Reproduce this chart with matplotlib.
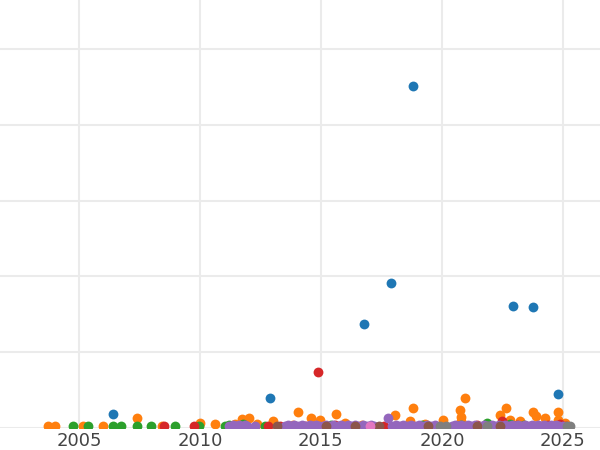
import numpy as np
import matplotlib
matplotlib.use("Agg")
import matplotlib.pyplot as plt

# year, value per group (values in units where one grid step = 100)
blue_year = [2006.40, 2012.89, 2016.78, 2017.90, 2018.80, 2022.93, 2023.76, 2024.79]
blue_val = [18, 39, 137, 191, 452, 160, 159, 44]

orange_year = [2003.73, 2004.00, 2005.18, 2005.99, 2007.40, 2008.42, 2010.01, 2010.62,
               2011.72, 2012.02, 2012.34, 2013.03, 2013.86, 2014.07, 2014.58, 2014.96,
               2015.62, 2015.99, 2018.06, 2018.68, 2018.79, 2020.04, 2020.74, 2020.77,
               2020.78, 2020.95, 2022.40, 2022.64, 2022.81, 2023.22, 2023.75, 2023.88,
               2024.26, 2024.81, 2024.79, 2025.08, 2011.45, 2016.70, 2019.30]
orange_val = [2, 2, 2, 2, 13, 2, 6, 4,
              11, 12, 4, 8, 3, 21, 13, 10,
              18, 6, 17, 9, 26, 10, 23, 14,
              9, 39, 17, 26, 10, 9, 20, 15,
              12, 20, 10, 6, 5, 3, 4]

green_year = [2004.74, 2005.38, 2006.40, 2006.72, 2007.40, 2007.96, 2008.97, 2009.97,
              2011.03, 2011.20, 2011.80, 2012.69, 2015.40, 2019.16, 2020.80, 2021.85,
              2022.81, 2023.40]
green_val = [2, 2, 2, 2, 2, 2, 2, 2,
             2, 3, 4, 2, 3, 3, 3, 6,
             5, 3]

red_year = [2008.51, 2009.75, 2012.81, 2013.31, 2014.34, 2014.88, 2015.58, 2017.60,
            2021.43, 2022.50, 2023.09, 2023.84, 2024.38, 2024.88, 2025.12]
red_val = [2, 2, 2, 2, 2, 73, 3, 2,
           3, 8, 3, 2, 3, 5, 2]

purple_year = [2011.20, 2011.35, 2011.45, 2011.60, 2011.70, 2011.85, 2011.95, 2012.27,
               2013.50, 2013.62, 2013.75, 2013.90, 2014.05, 2014.20, 2014.40, 2014.55,
               2014.67, 2014.80, 2014.90, 2015.08, 2015.22, 2015.35, 2015.50, 2015.70,
               2015.82, 2015.95, 2016.10, 2016.25, 2016.40, 2016.55, 2016.72, 2016.90,
               2017.05, 2017.20, 2017.77, 2017.95, 2018.10, 2018.25, 2018.40, 2018.55,
               2018.72, 2018.90, 2019.05, 2019.20, 2019.38, 2019.55, 2019.70, 2020.40,
               2020.52, 2020.65, 2020.80, 2020.95, 2021.08, 2021.20, 2021.38, 2021.55,
               2021.75, 2021.90, 2022.05, 2022.20, 2022.35, 2022.48, 2022.60, 2022.75,
               2022.90, 2023.02, 2023.15, 2023.30, 2023.45, 2023.58, 2023.70, 2023.82,
               2023.95, 2024.08, 2024.20, 2024.35, 2024.50, 2024.60, 2024.70, 2024.85,
               2025.00]
purple_val = [2, 3, 2, 3, 2, 3, 2, 2,
              2, 3, 2, 3, 2, 3, 2, 3,
              2, 3, 2, 2, 3, 2, 3, 2,
              3, 2, 3, 2, 3, 2, 3, 2,
              3, 2, 13, 2, 3, 2, 3, 2,
              3, 2, 3, 2, 3, 2, 3, 2,
              3, 2, 3, 2, 3, 2, 3, 2,
              3, 2, 3, 2, 3, 2, 3, 2,
              3, 2, 3, 2, 3, 2, 3, 2,
              3, 2, 3, 2, 3, 2, 3, 2,
              2]

brown_year = [2013.17, 2015.21, 2016.40, 2017.40, 2019.42, 2021.43, 2022.40]
brown_val = [2, 2, 2, 2, 2, 2, 2]

pink_year = [2017.02]
pink_val = [2]

gray_year = [2019.92, 2020.17, 2021.85, 2025.15, 2025.29]
gray_val = [2, 2, 2, 2, 2]

groups = [
    (orange_year, orange_val, "#ff7f0e"),
    (green_year, green_val, "#2ca02c"),
    (red_year, red_val, "#d62728"),
    (purple_year, purple_val, "#9467bd"),
    (brown_year, brown_val, "#8c564b"),
    (pink_year, pink_val, "#e377c2"),
    (gray_year, gray_val, "#7f7f7f"),
    (blue_year, blue_val, "#1f77b4"),
]

fig = plt.figure(figsize=(6, 4.5), dpi=100)
ax = fig.add_axes([0, 0.05, 1, 0.95])

for years, vals, color in groups:
    ax.scatter(years, vals, s=50, color=color, linewidth=0, zorder=3, clip_on=True)

ax.set_xlim(2001.74, 2026.53)
ax.set_ylim(0, 565)
ax.set_xticks([2005, 2010, 2015, 2020, 2025])
ax.set_yticks([0, 100, 200, 300, 400, 500])
ax.set_yticklabels([])
ax.grid(True, color="#ebebeb", linewidth=1.5, zorder=0)
ax.set_axisbelow(True)
for sp in ax.spines.values():
    sp.set_visible(False)
ax.tick_params(axis="both", length=0, labelsize=13, colors="#444444", pad=3)

fig.savefig("out.png", dpi=100)
